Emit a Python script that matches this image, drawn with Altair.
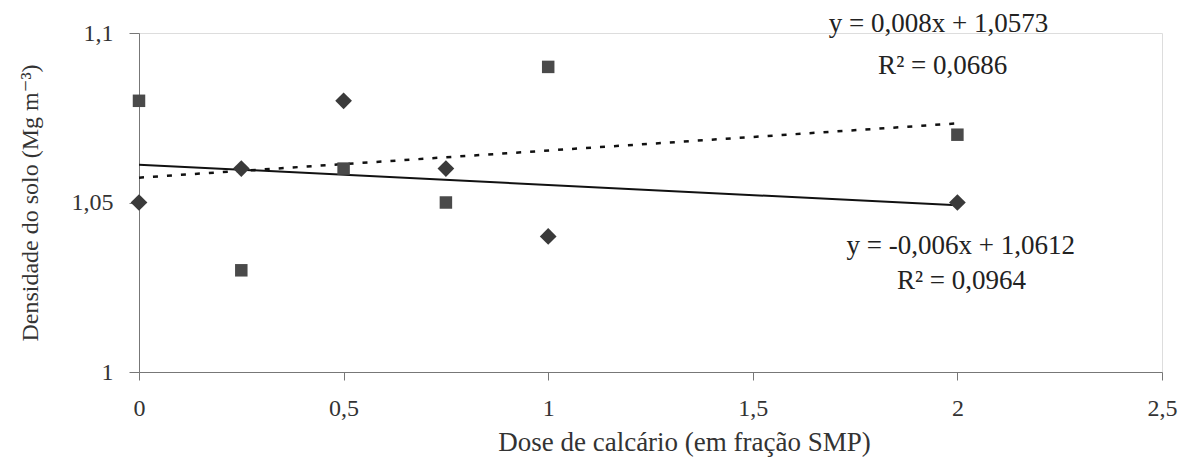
import altair as alt
import pandas as pd

# Data
doses = [0, 0.25, 0.5, 0.75, 1, 2]
square_vals = [1.08, 1.03, 1.06, 1.05, 1.09, 1.07]
diamond_vals = [1.05, 1.06, 1.08, 1.06, 1.04, 1.05]

eq_texts = ["y = 0,008x + 1,0573", "R² = 0,0686", "y = -0,006x + 1,0612", "R² = 0,0964"]
eq_x = [1.954, 1.964, 2.008, 2.010]
eq_y = [1.1028, 1.0903, 1.0372, 1.0268]

sq = pd.DataFrame({"x": doses, "y": square_vals})
di = pd.DataFrame({"x": doses, "y": diamond_vals})
eq = pd.DataFrame({"x": eq_x, "y": eq_y, "t": eq_texts})

FONT = "'Liberation Serif', 'DejaVu Serif', 'Times New Roman', serif"

xscale = alt.Scale(domain=[0, 2.5], nice=False, zero=False)
yscale = alt.Scale(domain=[1, 1.1], nice=False, zero=False)

xaxis = alt.Axis(
    values=[0, 0.5, 1, 1.5, 2, 2.5],
    labelExpr="replace(toString(datum.value), '.', ',')",
    title="Dose de calcário (em fração SMP)",
    grid=False, tickSize=8, labelPadding=16,
    titleX=545, titleY=78, titleAlign="center", titleBaseline="alphabetic", titleAnchor="start",
    labelFont=FONT, titleFont=FONT, labelFontSize=24, titleFontSize=27,
    titleFontWeight="normal", labelColor="#333", titleColor="#333",
    domainColor="#777", tickColor="#777", labelFlush=False,
)
yaxis = alt.Axis(
    values=[1, 1.05, 1.1],
    labelExpr="replace(toString(datum.value), '.', ',')",
    title="Densidade do solo (Mg m⁻³)",
    grid=False, tickSize=10, labelPadding=16, titlePadding=29,
    labelFont=FONT, titleFont=FONT, labelFontSize=24, titleFontSize=24,
    titleFontWeight="normal", labelColor="#333", titleColor="#333",
    domainColor="#777", tickColor="#777", labelFlush=False,
)

base_sq = alt.Chart(sq)
base_di = alt.Chart(di)

sq_pts = base_sq.mark_point(shape="square", filled=True, size=156, color="#4a4a4a", opacity=1).encode(
    x=alt.X("x:Q", scale=xscale, axis=xaxis),
    y=alt.Y("y:Q", scale=yscale, axis=yaxis),
)
di_pts = base_di.mark_point(shape="diamond", filled=True, size=280, color="#3a3a3a", opacity=1).encode(
    x=alt.X("x:Q", scale=xscale),
    y=alt.Y("y:Q", scale=yscale),
)

sq_line = base_sq.transform_regression("x", "y").mark_line(
    color="#111", strokeWidth=2.5, strokeDash=[5, 9]
).encode(x=alt.X("x:Q", scale=xscale), y=alt.Y("y:Q", scale=yscale))

di_line = base_di.transform_regression("x", "y").mark_line(
    color="#111", strokeWidth=2
).encode(x=alt.X("x:Q", scale=xscale), y=alt.Y("y:Q", scale=yscale))

texts = alt.Chart(eq).mark_text(
    font=FONT, fontSize=27, color="#222", align="center", baseline="middle"
).encode(x=alt.X("x:Q", scale=xscale), y=alt.Y("y:Q", scale=yscale), text="t:N")

chart = alt.layer(sq_line, di_line, sq_pts, di_pts, texts).properties(
    width=1023, height=339,
    autosize="none",
    padding={"left": 131, "top": 25, "right": 19, "bottom": 85},
).configure_view(stroke=None).configure(background="white")

chart.save("out.html", embed_options={"renderer": "svg", "actions": False})
